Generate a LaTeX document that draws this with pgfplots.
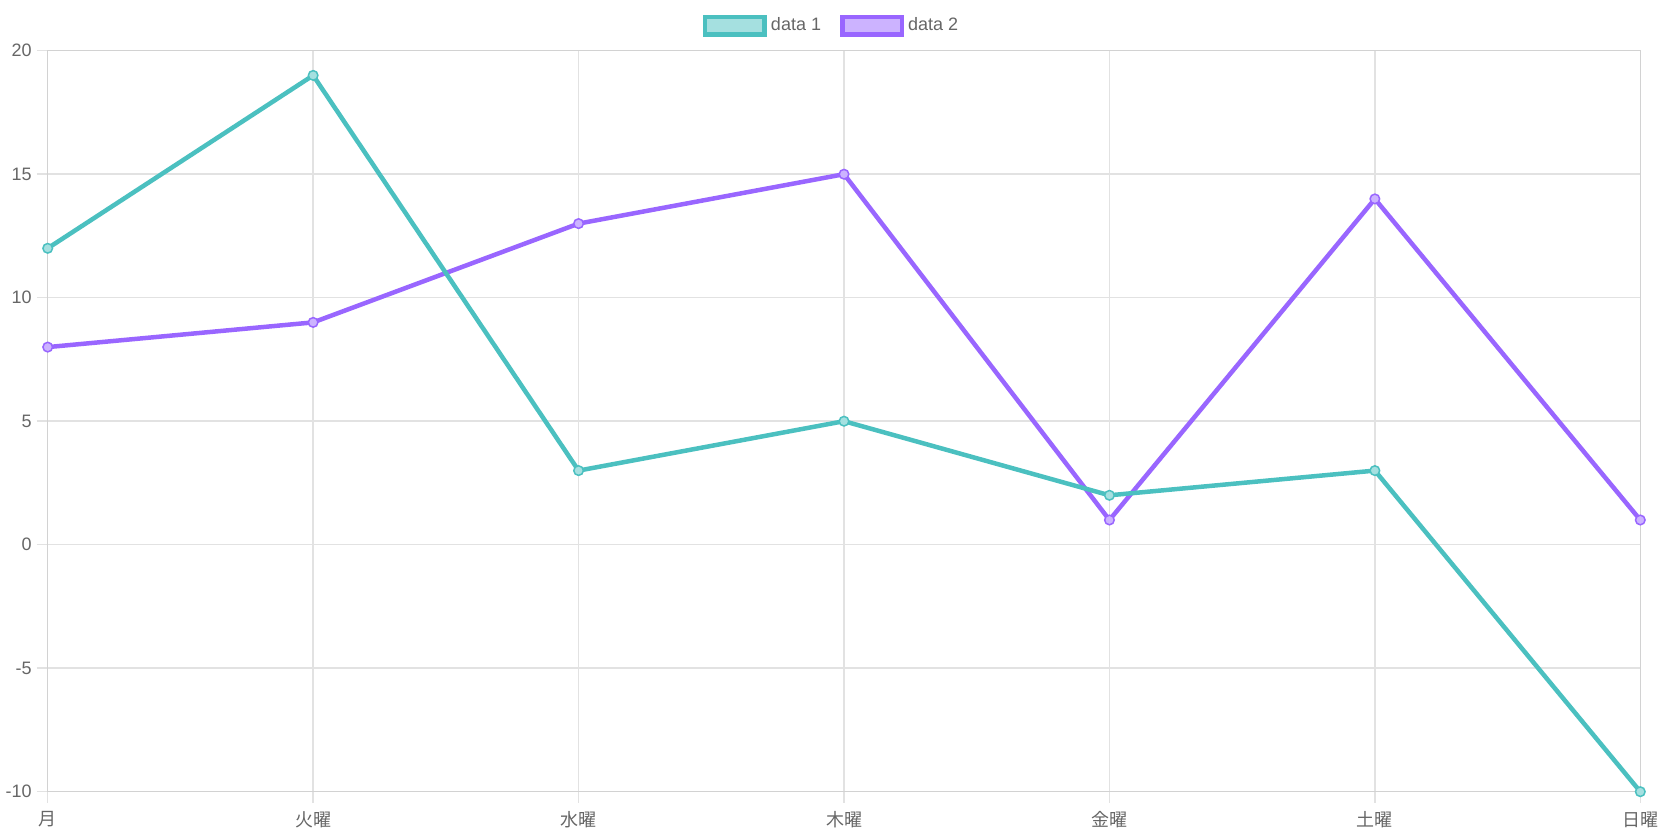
\documentclass[border=0pt]{standalone}
\usepackage{pgfplots}
\pgfplotsset{compat=1.18}
\usepackage{fontspec}
\setmainfont{Liberation Sans}
\newfontfamily\cjk{Noto Sans CJK JP}
\definecolor{cA}{RGB}{75,192,192}
\definecolor{cAf}{RGB}{165,224,224}
\definecolor{cB}{RGB}{153,102,255}
\definecolor{cBf}{RGB}{204,179,255}
\definecolor{gridc}{RGB}{226,226,226}
\definecolor{axc}{RGB}{210,210,210}
\definecolor{txt}{RGB}{102,102,102}
\begin{document}
\begin{tikzpicture}
\useasboundingbox (0,0) rectangle (832.5pt,417.5pt);
\begin{axis}[
  at={(23.85pt,21.65pt)}, anchor=south west,
  scale only axis, width=796.3pt, height=370.5pt,
  xmin=0, xmax=6, ymin=-10, ymax=20,
  clip=false,
  xtick={0,1,2,3,4,5,6},
  xticklabels={月,火曜,水曜,木曜,金曜,土曜,日曜},
  ytick={-10,-5,0,5,10,15,20},
  yticklabels={-10,-5,0,5,10,15,20},
  xtick pos=bottom, ytick pos=left,
  tick align=outside,
  major tick length=5.5pt,
  every tick/.style={gridc, line width=0.75pt},
  grid=major,
  major grid style={gridc, line width=0.75pt},
  axis line style={axc, line width=0.75pt},
  x tick label style={font=\cjk\fontsize{9}{10}\selectfont, text=txt, yshift=-1pt},
  y tick label style={font=\fontsize{9}{10}\selectfont, text=txt, xshift=1pt},
  legend style={draw=none, fill=none, at={(0.4928,1.034)}, anchor=center,
    legend columns=2, font=\fontsize{9}{10}\selectfont, text=txt,
    /tikz/every even column/.append style={column sep=7.5pt},
    inner sep=0pt},
  legend cell align=left,
]
\addlegendimage{legend image code/.code={\draw[cA, fill=cAf, line width=2.25pt] (0pt,-4.375pt) rectangle (29.75pt,4.375pt);}}
\addlegendentry{data 1}
\addlegendimage{legend image code/.code={\draw[cB, fill=cBf, line width=2.25pt] (0pt,-4.375pt) rectangle (29.75pt,4.375pt);}}
\addlegendentry{data 2}
\addplot[forget plot, cB, line width=2.25pt, mark=*, mark size=2.4pt,
  mark options={fill=cBf, draw=cB, line width=0.75pt}]
  coordinates {(0,8) (1,9) (2,13) (3,15) (4,1) (5,14) (6,1)};
\addplot[forget plot, cA, line width=2.25pt, mark=*, mark size=2.4pt,
  mark options={fill=cAf, draw=cA, line width=0.75pt}]
  coordinates {(0,12) (1,19) (2,3) (3,5) (4,2) (5,3) (6,-10)};
\end{axis}
\end{tikzpicture}
\end{document}
